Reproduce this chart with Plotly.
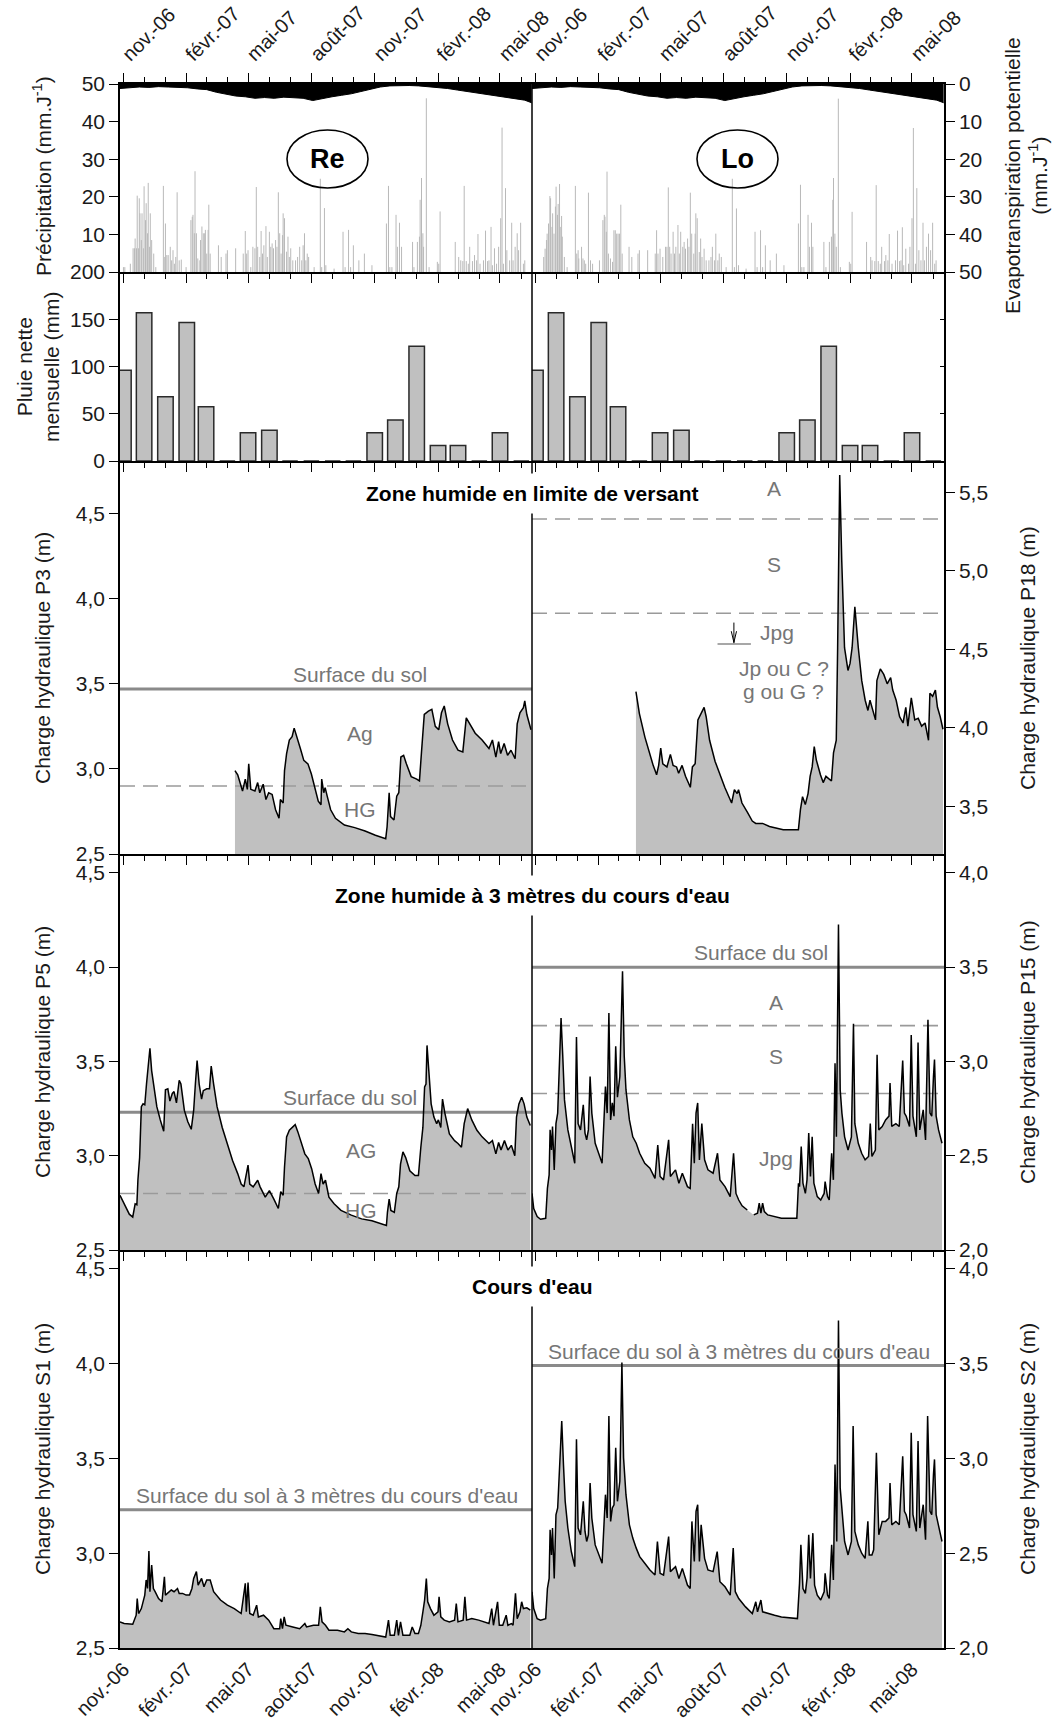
import pandas as pd
import plotly.graph_objects as go

# ------------------------------------------------------------------ data
START_DATE = "2006-10-27"          # day 0 of both panels
END_DAY = 598.5                    # last day shown (mid-June 2008)

MONTH_TICKS = ["2006-11-01", "2007-02-01", "2007-05-01", "2007-08-01",
               "2007-11-01", "2008-02-01", "2008-05-01"]
MONTH_LABELS = ["nov.-06", "févr.-07", "mai-07", "août-07", "nov.-07", "févr.-08", "mai-08"]

# potential evapotranspiration (mm/day), read every two weeks
ETP_DAY = [0, 14, 28, 42, 56, 70, 84, 98, 112, 126, 140, 154, 168, 182, 196, 210, 224, 238,
           252, 266, 280, 294, 308, 322, 336, 350, 364, 378, 392, 406, 420, 434, 448, 462,
           476, 490, 504, 518, 532, 546, 560, 574, 588, 598]
ETP_MM = [1.2, 1.0, 0.8, 0.9, 0.7, 0.8, 0.9, 1.0, 1.3, 1.5, 2.2, 2.6, 3.2, 3.4, 3.8, 3.6,
          3.8, 3.5, 3.6, 3.8, 4.4, 3.8, 3.4, 3.0, 2.6, 2.0, 1.3, 0.8, 0.5, 0.4, 0.4, 0.5,
          0.7, 1.0, 1.2, 1.6, 2.0, 2.4, 2.8, 3.2, 3.5, 3.8, 4.3, 5.0]

# daily precipitation (mm/day), rainy days only
RE_RAIN_DAY = [5, 7, 15, 19, 21, 22, 24, 25, 27, 28, 29, 31, 32, 34, 35, 37, 38, 40, 41, 43,
               44, 46, 49, 52, 63, 65, 66, 68, 70, 73, 75, 77, 79, 81, 83, 86, 89, 96, 103, 105,
               106, 108, 109, 111, 113, 116, 117, 119, 121, 123, 124, 126, 128, 129, 131, 143, 147, 154, 156, 168,
               179, 182, 184, 186, 190, 193, 196, 198, 200, 203, 205, 207, 209, 212, 214, 217, 219, 221, 223, 226,
               228, 230, 232, 234, 236, 237, 239, 242, 244, 246, 248, 251, 255, 258, 261, 264, 266, 268, 270, 272,
               274, 282, 291, 293, 297, 299, 311, 324, 327, 332, 335, 339, 347, 355, 366, 387, 390, 392, 395, 401,
               403, 406, 409, 425, 427, 432, 435, 436, 438, 440, 441, 445, 449, 461, 463, 465, 487, 492, 495, 498,
               500, 503, 506, 508, 512, 515, 518, 520, 523, 528, 531, 534, 536, 539, 541, 544, 547, 550, 553, 555,
               557, 560, 562, 566, 569, 571, 574, 577, 579, 582, 586, 588]
RE_RAIN_MM = [1.3, 1.3, 2.2, 6.3, 6.3, 8.9, 6.3, 20.3, 6.3, 19.6,
              15.6, 8.5, 15.6, 6.3, 22.8, 13.8, 18.3, 10.3, 23.7, 6.7,
              15.6, 8.5, 4.9, 1.3, 22.9, 4.0, 12.9, 4.5, 4.5, 6.7,
              3.1, 5.8, 2.2, 4.0, 21.2, 3.1, 3.3, 1.3, 13.8, 14.7,
              15.2, 10.3, 26.8, 10.3, 3.6, 3.1, 8.5, 12.1, 10.3, 10.3,
              11.2, 4.9, 11.2, 17.9, 4.9, 7.1, 4.0, 4.9, 5.8, 6.3,
              4.9, 10.9, 4.9, 5.8, 1.3, 6.7, 6.3, 22.6, 6.7, 4.0,
              10.9, 4.9, 7.1, 12.2, 4.0, 10.7, 6.7, 7.6, 6.3, 8.5,
              6.7, 21.2, 10.3, 4.9, 9.8, 15.6, 14.3, 5.4, 9.4, 4.0,
              6.3, 3.1, 3.1, 4.0, 6.7, 3.1, 7.1, 10.3, 3.1, 4.9,
              4.0, 1.3, 24.8, 1.3, 17.0, 1.8, 0.9, 10.7, 1.3, 11.2,
              1.3, 7.1, 3.1, 4.9, 1.8, 12.9, 22.9, 1.3, 1.3, 15.2,
              6.7, 13.1, 6.7, 8.0, 1.3, 8.0, 9.4, 19.2, 25.0, 10.3,
              6.7, 46.2, 1.3, 2.7, 2.2, 16.1, 8.0, 4.0, 3.1, 2.9,
              22.9, 2.9, 2.2, 6.7, 2.9, 4.5, 3.1, 10.1, 2.2, 3.1,
              11.0, 2.9, 3.1, 12.0, 1.8, 6.3, 2.2, 6.7, 14.3, 38.4,
              2.2, 22.3, 5.8, 3.1, 13.1, 3.1, 6.7, 10.3, 5.8, 13.1,
              2.2, 3.1]
LO_RAIN_DAY = [17, 19, 21, 22, 24, 26, 27, 29, 30, 32, 34, 35, 37, 38, 40, 41, 43, 44, 47, 51,
               63, 65, 67, 68, 72, 74, 76, 78, 82, 85, 88, 98, 103, 105, 106, 108, 109, 111, 114, 117,
               119, 121, 123, 125, 127, 129, 131, 141, 145, 154, 156, 168, 179, 181, 183, 186, 190, 194, 196, 198,
               200, 202, 205, 207, 209, 212, 214, 216, 219, 221, 223, 226, 228, 230, 232, 235, 237, 238, 240, 243,
               245, 247, 250, 253, 257, 260, 262, 265, 267, 270, 272, 275, 282, 291, 294, 297, 300, 311, 324, 327,
               332, 335, 339, 346, 355, 366, 387, 390, 392, 395, 401, 403, 406, 408, 424, 427, 432, 435, 437, 438,
               440, 442, 445, 448, 461, 463, 465, 486, 492, 494, 498, 500, 503, 506, 508, 512, 514, 517, 519, 523,
               528, 531, 534, 536, 538, 540, 543, 547, 549, 552, 554, 557, 559, 562, 565, 568, 570, 573, 576, 579,
               582, 585, 587]
LO_RAIN_MM = [4.0, 6.2, 8.5, 10.2, 12.9, 20.2, 19.6, 12.0, 15.6, 10.2,
              17.4, 22.7, 15.2, 18.1, 23.4, 12.0, 14.9, 9.4, 4.0, 1.3,
              22.9, 4.9, 5.8, 3.6, 6.7, 3.6, 3.1, 2.2, 21.1, 3.1,
              2.2, 3.1, 13.8, 15.2, 14.7, 10.7, 26.7, 4.9, 3.6, 2.7,
              11.1, 11.1, 10.2, 10.2, 10.2, 17.9, 4.9, 6.7, 4.0, 4.9,
              5.8, 5.8, 4.9, 11.1, 4.9, 6.2, 4.0, 6.7, 6.7, 22.5,
              6.7, 4.9, 10.7, 4.9, 6.7, 12.5, 4.9, 10.7, 6.7, 8.0,
              6.2, 8.9, 6.7, 21.1, 10.2, 4.9, 10.2, 15.6, 14.3, 5.3,
              8.9, 4.0, 6.2, 3.1, 3.1, 4.0, 6.7, 3.1, 10.2, 3.1,
              4.9, 4.0, 1.3, 24.8, 1.3, 16.9, 1.8, 0.9, 10.7, 1.3,
              11.1, 1.3, 7.1, 3.1, 4.9, 1.8, 12.9, 23.2, 1.3, 1.3,
              15.2, 6.7, 13.1, 6.7, 8.0, 1.3, 8.0, 9.4, 19.2, 25.0,
              10.2, 6.7, 46.1, 1.3, 2.7, 2.2, 16.0, 8.0, 4.0, 3.1,
              2.9, 23.1, 2.9, 2.2, 6.7, 2.9, 4.5, 3.1, 10.1, 2.2,
              3.1, 11.0, 2.9, 3.1, 11.9, 1.8, 6.2, 2.2, 6.7, 14.3,
              38.3, 2.2, 22.3, 5.8, 3.1, 13.1, 3.1, 6.7, 10.2, 5.8,
              13.1, 2.2, 3.1]

# monthly net rainfall (mm), same for both sites
NET_MONTH = ["2006-11-01", "2006-12-01", "2007-01-01", "2007-02-01", "2007-03-01", "2007-04-01",
             "2007-05-01", "2007-06-01", "2007-07-01", "2007-08-01", "2007-09-01", "2007-10-01",
             "2007-11-01", "2007-12-01", "2008-01-01", "2008-02-01", "2008-03-01", "2008-04-01",
             "2008-05-01", "2008-06-01"]
NET_MM = [96, 157, 68, 146.5, 57.5, 0, 30, 32.5, 0, 0, 0, 0, 30, 43.5, 121.5, 16.5, 16.5, 0, 30, 0]

# hydraulic heads (m)
P3_DAY = [167, 171, 178, 182, 185, 187, 190, 196, 200, 203, 208, 212, 216, 221, 226, 231, 233, 237, 239, 242,
          246, 250, 253, 257, 262, 267, 273, 278, 283, 288, 292, 293, 296, 298, 301, 306, 313, 326, 341, 356,
          371, 386, 388, 391, 393, 398, 402, 405, 408, 412, 416, 423, 431, 435, 438, 442, 448, 453, 458, 463,
          467, 471, 476, 483, 491, 498, 503, 508, 516, 526, 536, 541, 546, 550, 553, 558, 563, 568, 572, 574,
          577, 581, 586, 588, 591, 595, 597]
P3_M = [2.99, 2.965, 2.87, 2.94, 2.88, 3.03, 2.88, 2.87, 2.92, 2.86, 2.91, 2.82, 2.86, 2.85, 2.76, 2.71, 2.82, 2.80, 2.99, 3.09,
        3.17, 3.19, 3.24, 3.19, 3.12, 3.05, 3.03, 2.97, 2.89, 2.81, 2.79, 2.94, 2.86, 2.89, 2.84, 2.76, 2.71, 2.67, 2.655, 2.635,
        2.61, 2.59, 2.66, 2.86, 2.72, 2.70, 2.84, 2.86, 3.07, 3.08, 3.03, 2.955, 2.94, 2.93, 3.10, 3.32, 3.34, 3.35, 3.25, 3.23,
        3.33, 3.37, 3.265, 3.17, 3.11, 3.10, 3.30, 3.265, 3.21, 3.17, 3.12, 3.17, 3.07, 3.16, 3.09, 3.15, 3.08, 3.11, 3.07, 3.06,
        3.265, 3.33, 3.36, 3.40, 3.32, 3.25, 3.23]

P18_DAY = [151, 156, 164, 169, 176, 181, 184, 187, 190, 196, 201, 205, 210, 213, 218, 223, 230, 233, 237, 241,
           245, 250, 253, 258, 266, 273, 280, 286, 290, 294, 298, 300, 305, 313, 320, 325, 335, 345, 355, 365,
           380, 387, 390, 393, 397, 401, 404, 407, 410, 413, 419, 423, 427, 432, 435, 438, 442, 444, 447, 450,
           454, 459, 462, 465, 469, 474, 479, 484, 488, 491, 499, 501, 506, 511, 516, 521, 524, 529, 534, 539,
           543, 546, 551, 556, 561, 566, 571, 576, 578, 582, 586, 589, 593, 597]
P18_M = [4.23, 4.09, 3.94, 3.86, 3.76, 3.70, 3.76, 3.87, 3.77, 3.75, 3.83, 3.76, 3.75, 3.71, 3.76, 3.69, 3.62, 3.75, 3.77, 4.05,
         4.09, 4.13, 4.07, 3.92, 3.785, 3.70, 3.62, 3.56, 3.52, 3.605, 3.58, 3.605, 3.52, 3.46, 3.405, 3.39, 3.39, 3.37, 3.36, 3.35,
         3.35, 3.35, 3.48, 3.56, 3.51, 3.58, 3.69, 3.75, 3.88, 3.795, 3.70, 3.65, 3.69, 3.67, 3.66, 3.84, 3.92, 4.51, 5.61, 5.06,
         4.51, 4.365, 4.41, 4.51, 4.77, 4.51, 4.30, 4.175, 4.11, 4.175, 4.05, 4.30, 4.375, 4.34, 4.28, 4.32, 4.24, 4.175, 4.07, 4.03,
         4.13, 4.01, 4.19, 4.05, 4.06, 4.01, 4.03, 3.92, 4.22, 4.20, 4.24, 4.13, 4.07, 3.99]

P5_DAY = [0, 6, 13.5, 18.5, 22, 24.5, 26, 28.5, 31, 33.5, 36, 38.5, 41, 43.5, 46, 49.5, 53.5, 58.5, 63.5, 66,
          69.5, 72.5, 76, 78.5, 82, 86, 88.5, 93.5, 98.5, 103.5, 107, 109.5, 112, 115, 118.5, 121, 126, 130, 132.5, 136,
          141, 148.5, 156, 163.5, 171, 176, 180, 183.5, 186, 188.5, 193.5, 200, 203.5, 211, 217, 223.5, 230, 233.5, 237, 239,
          242, 246, 251, 254.5, 258.5, 263.5, 268.5, 273.5, 278.5, 283.5, 288.5, 292, 295, 298.5, 303.5, 311, 321, 336, 351, 366,
          376, 387, 388.5, 391, 393.5, 398.5, 402, 405, 407.5, 411, 415, 421, 428.5, 433.5, 437, 440, 442.5, 444.5, 446, 448.5,
          452, 456, 460, 462.5, 466, 468.5, 472, 478.5, 486, 491, 496, 500, 505, 511, 518.5, 526, 536, 541, 546, 550,
          553.5, 558.5, 563.5, 568.5, 573.5, 576, 579.5, 583.5, 587, 591, 596]
P5_M = [2.79, 2.745, 2.69, 2.675, 2.745, 2.74, 2.87, 2.99, 3.26, 3.275, 3.27, 3.38, 3.47, 3.57, 3.45, 3.35, 3.26, 3.19, 3.13, 3.35,
        3.355, 3.29, 3.33, 3.34, 3.28, 3.40, 3.38, 3.24, 3.18, 3.14, 3.24, 3.38, 3.505, 3.38, 3.30, 3.345, 3.355, 3.355, 3.475, 3.38,
        3.26, 3.15, 3.065, 2.975, 2.905, 2.85, 2.835, 2.895, 2.95, 2.85, 2.835, 2.87, 2.835, 2.78, 2.815, 2.77, 2.72, 2.81, 2.79, 2.94,
        3.10, 3.135, 3.15, 3.165, 3.125, 3.065, 3.01, 2.985, 2.93, 2.85, 2.80, 2.905, 2.85, 2.87, 2.78, 2.745, 2.71, 2.685, 2.665, 2.655,
        2.645, 2.63, 2.70, 2.77, 2.71, 2.70, 2.80, 2.835, 2.955, 3.02, 2.99, 2.92, 2.895, 2.895, 3.045, 3.15, 3.365, 3.38, 3.585, 3.45,
        3.275, 3.205, 3.17, 3.19, 3.15, 3.30, 3.225, 3.115, 3.08, 3.065, 3.045, 3.17, 3.25, 3.19, 3.135, 3.10, 3.065, 3.08, 3.01, 3.07,
        3.03, 3.08, 3.03, 3.055, 3.00, 3.205, 3.275, 3.31, 3.275, 3.205, 3.16]

P15_DAY = [0, 2.5, 7.5, 12.4, 19.9, 22.4, 24.9, 26.3, 28.3, 29.8, 32.3, 34.8, 37.3, 39.7, 42.2, 44.7, 47.2, 52.1, 57.1, 62.1,
           64.6, 67, 70.5, 74.5, 77, 79.4, 81.9, 84.4, 86.9, 91.8, 96.8, 101.8, 106.7, 109.2, 111.7, 114.2, 116.7, 119.1, 121.6, 124.1,
           127.6, 131.5, 134, 136.5, 141.5, 146.4, 151.4, 156.4, 163.8, 171.3, 178.7, 182.7, 186.1, 191.1, 198.5, 201, 208.5, 213.4, 218.4, 225.8,
           229.8, 233.3, 235.8, 238.3, 240.7, 243.2, 246.7, 250.7, 255.6, 263.1, 269.5, 273, 280.4, 287.9, 292.8, 296.3, 300.3, 305.2, 312.7,
           317,
           322.1, 327.6, 330.1, 332.5, 335, 337.5, 342.5, 352.4, 362.3, 374.7, 384.7, 387.1, 388.6, 391.1, 393.6, 397.1, 399.5, 402, 404.5, 407,
           409.5, 414.4, 419.4, 424.4, 425.8, 429.3, 431.8, 435.3, 437.8, 440.2, 442.2, 445.2, 447.7, 450.2, 454.1, 459.1, 464, 467, 469, 474,
           478.9, 483.9, 488.9, 491.4, 493.8, 498.8, 501.3, 503.8, 508.7, 513.7, 518.6, 520.1, 522.6, 528.6, 533.5, 538.5, 541, 543.5, 548.4, 550.9,
           553.4, 558.3, 560.8, 563.3, 568.3, 571.7, 575.2, 578.2, 580.7, 583.2, 584.7, 587.1, 590.6, 595.6]
P15_M = [2.30, 2.22, 2.177, 2.163, 2.168, 2.327, 2.398, 2.637, 2.53, 2.655, 2.425, 2.67, 2.726, 2.956, 3.23, 3.027, 2.796, 2.637, 2.54, 2.46,
         3.13, 2.67, 2.637, 2.77, 2.62, 2.584, 2.637, 2.92, 2.726, 2.566, 2.513, 2.46, 2.867, 2.726, 3.257, 2.69, 2.78, 2.71, 3.08, 2.81,
         2.92, 3.478, 3.027, 2.85, 2.69, 2.60, 2.566, 2.513, 2.46, 2.434, 2.38, 2.557, 2.39, 2.372, 2.584, 2.39, 2.425, 2.354, 2.407, 2.336,
         2.327, 2.67, 2.46, 2.726, 2.78, 2.478, 2.67, 2.478, 2.425, 2.407, 2.513, 2.372, 2.336, 2.283, 2.513, 2.30, 2.265, 2.234, 2.212,
         None,
         2.186, 2.195, 2.248, 2.195, 2.248, 2.204, 2.186, 2.177, 2.168, 2.168, 2.168, 2.354, 2.336, 2.549, 2.354, 2.30, 2.372, 2.62, 2.39, 2.60,
         2.354, 2.283, 2.265, 2.30, 2.363, 2.283, 2.265, 2.513, 2.372, 2.99, 2.60, 3.726, 2.85, 2.726, 2.60, 2.53, 2.60, 3.20, 2.67, 2.566,
         2.513, 2.478, 2.496, 2.67, 2.496, 2.53, 3.035, 2.637, 2.655, 2.69, 2.71, 2.885, 2.655, 2.67, 2.655, 3.005, 2.726, 2.71, 2.655, 3.14,
         2.71, 2.60, 3.10, 2.637, 2.743, 2.584, 3.221, 2.726, 2.71, 2.92, 3.01, 2.71, 2.637, 2.566]

S1_DAY = [0, 6, 18.5, 21, 23.5, 25, 27, 31, 33.5, 36, 38, 40, 42, 43.5, 46, 48.5, 51, 56, 61, 64.5,
          66, 71, 74.5, 78.5, 83.5, 86, 91, 96, 101, 104.5, 107, 111, 113.5, 118.5, 122, 126, 131, 136, 146, 156,
          166, 176, 182, 183.5, 186, 188.5, 193.5, 198.5, 201, 208.5, 216, 223.5, 232, 233.5, 236, 238.5, 241, 251, 261, 268.5,
          271, 281, 288.5, 291, 293.5, 298.5, 303.5, 316, 326, 331, 336, 346, 356, 366, 376, 386, 390, 392.5, 398.5, 402,
          404.5, 407.5, 411, 421, 424.5, 428.5, 433.5, 437, 440, 442.5, 445, 447, 451, 456, 462, 463.5, 466, 471, 478.5, 486,
          488.5, 491, 498.5, 501, 503.5, 511, 521, 528.5, 536, 540, 542.5, 548.5, 551, 556, 561, 563.5, 568.5, 571, 574.5, 577,
          581, 583.5, 586, 591, 596]
S1_M = [2.638, 2.629, 2.625, 2.655, 2.673, 2.761, 2.682, 2.708, 2.753, 2.779, 2.859, 2.814, 3.012, 2.797, 2.938, 2.814, 2.797, 2.761, 2.744, 2.876,
        2.779, 2.797, 2.806, 2.797, 2.814, 2.788, 2.788, 2.779, 2.779, 2.814, 2.867, 2.903, 2.832, 2.867, 2.823, 2.859, 2.859, 2.797, 2.753, 2.726,
        2.708, 2.682, 2.841, 2.691, 2.846, 2.682, 2.673, 2.726, 2.664, 2.673, 2.647, 2.602, 2.602, 2.655, 2.602, 2.664, 2.620, 2.611, 2.602, 2.629,
        2.611, 2.620, 2.620, 2.717, 2.638, 2.620, 2.594, 2.594, 2.585, 2.602, 2.585, 2.576, 2.576, 2.571, 2.564, 2.558, 2.647, 2.567, 2.567, 2.647,
        2.567, 2.638, 2.567, 2.567, 2.611, 2.576, 2.576, 2.620, 2.691, 2.753, 2.867, 2.744, 2.708, 2.673, 2.691, 2.770, 2.664, 2.647, 2.638, 2.647,
        2.735, 2.638, 2.647, 2.770, 2.647, 2.655, 2.647, 2.638, 2.629, 2.708, 2.620, 2.744, 2.620, 2.620, 2.673, 2.620, 2.629, 2.620, 2.788, 2.655,
        2.691, 2.744, 2.708, 2.712, 2.700]

S2_DAY = [0, 2.5, 7.5, 12.4, 19.9, 22.4, 24.9, 26.3, 28.3, 29.8, 32.3, 34.8, 37.3, 39.7, 43.2, 45.7, 48.2, 52.1, 57.1, 62.1,
          64.6, 67, 70.5, 74.5, 77, 79.4, 81.9, 84.4, 86.9, 91.8, 96.8, 101.8, 106.7, 109.2, 111.7, 114.2, 116.7, 119.1, 121.6, 124.1,
          127.6, 130.6, 133, 136.5, 141.5, 146.4, 151.4, 156.4, 163.8, 171.3, 178.7, 182.2, 186.1, 191.1, 198.5, 201, 208.5, 213.4, 218.4, 225.8,
          229.8, 232.3, 235.8, 238.3, 240.7, 243.2, 245.7, 250.7, 255.6, 263.1, 269, 273, 280.4, 287.9, 292.3, 295.3, 300.3, 310.2, 320.1, 325.1,
          327.6, 332.5, 335, 342.5, 352.4, 362.3, 374.7, 385.6, 388.6, 390.6, 393.6, 397.1, 399.5, 402, 404.5, 408, 410.5, 414.4, 419.4, 424.4,
          425.8, 429.3, 431.8, 435.3, 437.8, 440.2, 442.7, 445.2, 447.7, 450.7, 454.1, 459.1, 464, 466.5, 469, 474, 478.9, 483.9, 487.9, 489.9,
          493.8, 496.3, 500.3, 503.8, 508.7, 513.7, 518.6, 520.1, 522.6, 528.6, 533.5, 538.5, 541, 543.5, 548.4, 550.9, 553.4, 558.3, 560.8, 563.3,
          568.3, 571.7, 574.7, 578.2, 580.7, 583.2, 584.7, 587.1, 590.6, 595.6]
S2_M = [2.297, 2.208, 2.155, 2.147, 2.155, 2.314, 2.367, 2.624, 2.491, 2.633, 2.367, 2.703, 2.739, 2.915, 3.198, 2.968, 2.774, 2.633, 2.509, 2.429,
        3.101, 2.633, 2.597, 2.774, 2.615, 2.562, 2.597, 2.871, 2.686, 2.544, 2.491, 2.447, 2.809, 2.686, 3.224, 2.668, 2.739, 2.756, 3.057, 2.774,
        2.88, 3.507, 3.004, 2.809, 2.650, 2.580, 2.527, 2.482, 2.447, 2.412, 2.385, 2.562, 2.394, 2.385, 2.588, 2.403, 2.429, 2.367, 2.420, 2.332,
        2.314, 2.668, 2.456, 2.721, 2.756, 2.456, 2.650, 2.473, 2.412, 2.403, 2.509, 2.350, 2.323, 2.279, 2.527, 2.297, 2.261, 2.217, 2.182, 2.244,
        2.191, 2.253, 2.191, 2.182, 2.173, 2.164, 2.159, 2.155, 2.341, 2.544, 2.314, 2.288, 2.367, 2.597, 2.367, 2.606, 2.332, 2.279, 2.253, 2.297,
        2.394, 2.279, 2.261, 2.544, 2.359, 2.968, 2.562, 3.728, 2.845, 2.703, 2.562, 2.491, 2.562, 3.171, 2.615, 2.544, 2.500, 2.473, 2.668, 2.491,
        2.491, 2.518, 3.030, 2.597, 2.668, 2.668, 2.686, 2.871, 2.650, 2.668, 2.650, 3.012, 2.721, 2.703, 2.633, 3.136, 2.703, 2.615, 3.092, 2.633,
        2.756, 2.571, 3.224, 2.721, 2.703, 2.915, 2.995, 2.703, 2.650, 2.562]

# ground surface and soil-horizon limits (m)
P3_SURFACE, P3_LIMITS = 3.47, [2.90]
P18_LIMITS, P18_WATER_TABLE = [5.33, 4.73], 4.534
P5_SURFACE, P5_LIMITS = 3.23, [2.80]
P15_SURFACE, P15_LIMITS = 3.50, [3.19, 2.83]
S1_SURFACE, S2_SURFACE = 3.23, 3.49

# ------------------------------------------------------------------ helpers
T0 = pd.Timestamp(START_DATE)


def dt(d):
    return (T0 + pd.Timedelta(days=float(d))).strftime("%Y-%m-%d %H:%M")


def dts(days):
    return [dt(d) for d in days]


X0, X1 = dt(0), dt(END_DAY)
XRANGE = [X0, X1]

W, H = 1056, 1729
ML, MR, MT, MB = 120, 112, 84, 81
PW, PH = W - ML - MR, H - MT - MB


def fx(px):
    return (px - ML) / PW


def fy(py):
    return (H - MB - py) / PH


ROWS = [84, 272, 461, 854, 1250, 1648]
DOM = [[fy(ROWS[i + 1]), fy(ROWS[i])] for i in range(5)]

FONT = "Liberation Sans, Arial, sans-serif"
TXT = "#1a1a1a"
GREY_TXT = "#767676"
FILL = "#c0c0c0"
TICKFONT = dict(family=FONT, size=21, color=TXT)
XTICKFONT = dict(family=FONT, size=20, color=TXT)


def aid(col, row):
    return col * 5 + row + 1


def xn(i):
    return "x" if i == 1 else f"x{i}"


def yn(i):
    return "y" if i == 1 else f"y{i}"


fig = go.Figure()
layout = dict(
    width=W, height=H, margin=dict(l=ML, r=MR, t=MT, b=MB, autoexpand=False),
    paper_bgcolor="white", plot_bgcolor="white", showlegend=False,
    separators=", ", font=dict(family=FONT, size=21, color=TXT),
)

# x axes
for col in (0, 1):
    for row in range(5):
        i = aid(col, row)
        ax = dict(type="date", range=XRANGE, domain=[0, 0.5] if col == 0 else [0.5, 1.0],
                  anchor=yn(i), automargin=False, showline=True, linecolor="black", linewidth=1.5,
                  showgrid=False, zeroline=False, tickmode="array",
                  tickvals=MONTH_TICKS, ticktext=MONTH_LABELS, tickfont=XTICKFONT,
                  ticks="outside", ticklen=9, tickwidth=1.3, tickcolor="black",
                  minor=dict(tickmode="linear", tick0="2006-11-01", dtick="M1",
                             ticks="outside", ticklen=5, tickwidth=1.2, tickcolor="black",
                             showgrid=False))
        if row == 0:
            ax.update(side="top", showticklabels=True, tickangle=-45, mirror="ticks")
        elif row == 4:
            ax.update(side="bottom", showticklabels=True, tickangle=-45, ticks="",
                      minor=dict(ticks="", showgrid=False))
        else:
            ax.update(side="bottom", showticklabels=False)
        layout["xaxis" if i == 1 else f"xaxis{i}"] = ax

YBASE = dict(showline=True, linecolor="black", linewidth=1.5, showgrid=False, zeroline=False,
             automargin=False, ticks="outside", ticklen=9, tickwidth=1.3, tickcolor="black",
             tickfont=TICKFONT)

ycfg = {
    1: dict(range=[0, 50], tickvals=[10, 20, 30, 40, 50], side="left"),
    2: dict(range=[0, 200], tickvals=[0, 50, 100, 150, 200], side="left"),
    3: dict(range=[2.5, 4.81], tickvals=[2.5, 3.0, 3.5, 4.0, 4.5], tickformat=".1f", side="left"),
    4: dict(range=[2.5, 4.60], tickvals=[2.5, 3.0, 3.5, 4.0, 4.5], tickformat=".1f", side="left"),
    5: dict(range=[2.5, 4.60], tickvals=[2.5, 3.0, 3.5, 4.0, 4.5], tickformat=".1f", side="left"),
    6: dict(range=[0, 50], visible=False, side="right"),
    7: dict(range=[0, 200], tickvals=[50, 100, 150], side="right", showticklabels=False,
            ticks="inside", ticklen=4),
    8: dict(range=[3.195, 5.70], tickvals=[3.5, 4.0, 4.5, 5.0, 5.5], tickformat=".1f", side="right"),
    9: dict(range=[2.0, 4.10], tickvals=[2.0, 2.5, 3.0, 3.5, 4.0], tickformat=".1f", side="right"),
    10: dict(range=[2.0, 4.10], tickvals=[2.0, 2.5, 3.0, 3.5, 4.0], tickformat=".1f", side="right"),
}
for i, c in ycfg.items():
    row = (i - 1) % 5
    ax = dict(YBASE)
    ax.update(domain=DOM[row], anchor=xn(i))
    ax.update(c)
    layout["yaxis" if i == 1 else f"yaxis{i}"] = ax
# ETP axes (reversed, overlaying the precipitation axes)
layout["yaxis11"] = dict(overlaying="y", anchor="x", side="right", range=[50, 0], visible=False,
                         automargin=False)
ax12 = dict(YBASE)
ax12.update(overlaying="y6", anchor="x6", side="right", range=[50, 0],
            tickvals=[0, 10, 20, 30, 40, 50])
layout["yaxis12"] = ax12


# ------------------------------------------------------------------ traces
def stems(days, vals):
    xs, ys = [], []
    for d, v in zip(days, vals):
        t = dt(d)
        xs += [t, t, None]
        ys += [0, v, None]
    return xs, ys


for col, (rd, rv) in enumerate([(RE_RAIN_DAY, RE_RAIN_MM), (LO_RAIN_DAY, LO_RAIN_MM)]):
    i = aid(col, 0)
    xs, ys = stems(rd, rv)
    fig.add_trace(go.Scatter(x=xs, y=ys, mode="lines", line=dict(color="#b9b9b9", width=1),
                             xaxis=xn(i), yaxis=yn(i), hoverinfo="skip"))
    fig.add_trace(go.Scatter(x=dts(ETP_DAY), y=ETP_MM, mode="lines", fill="tozeroy",
                             fillcolor="black", line=dict(color="black", width=1),
                             xaxis=xn(i), yaxis="y11" if col == 0 else "y12"))

for col in (0, 1):
    i = aid(col, 1)
    fig.add_trace(go.Bar(x=NET_MONTH, y=NET_MM, width=22.5 * 86400000,
                         marker=dict(color=FILL, line=dict(color="#2a2a2a", width=1.5)),
                         xaxis=xn(i), yaxis=yn(i)))


def head_panel(i, days, vals, solid=None, dashed=()):
    x = dts(days)
    fig.add_trace(go.Scatter(x=x, y=vals, mode="lines", fill="tozeroy", fillcolor=FILL,
                             line=dict(width=0, color=FILL), connectgaps=False,
                             xaxis=xn(i), yaxis=yn(i)))
    for lv in dashed:
        fig.add_trace(go.Scatter(x=XRANGE, y=[lv, lv], mode="lines",
                                 line=dict(color="#9a9a9a", width=1.6, dash="15px,8px"),
                                 xaxis=xn(i), yaxis=yn(i)))
    if solid is not None:
        fig.add_trace(go.Scatter(x=XRANGE, y=[solid, solid], mode="lines",
                                 line=dict(color="#8a8a8a", width=3),
                                 xaxis=xn(i), yaxis=yn(i)))
    fig.add_trace(go.Scatter(x=x, y=vals, mode="lines", connectgaps=False,
                             line=dict(color="black", width=1.5),
                             xaxis=xn(i), yaxis=yn(i)))


head_panel(aid(0, 2), P3_DAY, P3_M, solid=P3_SURFACE, dashed=P3_LIMITS)
head_panel(aid(1, 2), P18_DAY, P18_M, dashed=P18_LIMITS)
head_panel(aid(0, 3), P5_DAY, P5_M, solid=P5_SURFACE, dashed=P5_LIMITS)
head_panel(aid(1, 3), P15_DAY, P15_M, solid=P15_SURFACE, dashed=P15_LIMITS)
head_panel(aid(0, 4), S1_DAY, S1_M, solid=S1_SURFACE)
head_panel(aid(1, 4), S2_DAY, S2_M, solid=S2_SURFACE)

# ------------------------------------------------------------------ shapes & annotations
shapes = [
    dict(type="line", xref="paper", yref="paper", x0=0.5, x1=0.5, y0=0, y1=1,
         line=dict(color="black", width=1.5)),
    dict(type="circle", xref="paper", yref="paper", x0=fx(287), x1=fx(368), y0=fy(188), y1=fy(130),
         line=dict(color="black", width=1.6)),
    dict(type="circle", xref="paper", yref="paper", x0=fx(697), x1=fx(778), y0=fy(188), y1=fy(130),
         line=dict(color="black", width=1.6)),
    # water-table symbol in P18 panel
    dict(type="line", xref="x8", yref="y8", x0=dt(269.5), x1=dt(318), y0=P18_WATER_TABLE,
         y1=P18_WATER_TABLE, line=dict(color="#8a8a8a", width=1.5)),
    dict(type="line", xref="x8", yref="y8", x0=dt(293.3), x1=dt(293.3), y0=P18_WATER_TABLE + 0.005,
         y1=4.67, line=dict(color="black", width=1)),
    dict(type="line", xref="x8", yref="y8", x0=dt(289.5), x1=dt(293.3), y0=4.615, y1=P18_WATER_TABLE + 0.01,
         line=dict(color="black", width=1)),
    dict(type="line", xref="x8", yref="y8", x0=dt(297.1), x1=dt(293.3), y0=4.615, y1=P18_WATER_TABLE + 0.01,
         line=dict(color="black", width=1)),
]

ann = []


def a_title(text, px, pyc, size=21):
    ann.append(dict(text=text, xref="paper", yref="paper", x=fx(px), y=fy(pyc), showarrow=False,
                    textangle=-90, xanchor="center", yanchor="middle",
                    font=dict(family=FONT, size=size, color=TXT)))


a_title("Précipitation (mm.J<sup>-1</sup>)", 42, 176)
a_title("Pluie nette<br>mensuelle (mm)", 38, 367)
a_title("Charge hydraulique P3 (m)", 42, 658)
a_title("Charge hydraulique P5 (m)", 42, 1052)
a_title("Charge hydraulique S1 (m)", 42, 1449)
a_title("Evapotranspiration potentielle<br>(mm.J<sup>-1</sup>)", 1026, 176)
a_title("Charge hydraulique P18 (m)", 1027, 658)
a_title("Charge hydraulique P15 (m)", 1027, 1052)
a_title("Charge hydraulique S2 (m)", 1027, 1449)

for txt, cx in (("Re", 327.5), ("Lo", 737.5)):
    ann.append(dict(text=f"<b>{txt}</b>", xref="paper", yref="paper", x=fx(cx), y=fy(159),
                    showarrow=False, xanchor="center", yanchor="middle",
                    font=dict(family=FONT, size=27, color="black")))

for txt, py in (("Zone humide en limite de versant", 493),
                ("Zone humide à 3 mètres du cours d'eau", 896),
                ("Cours d'eau", 1286)):
    ann.append(dict(text=f"<b>{txt}</b>", xref="paper", yref="paper", x=0.5, y=fy(py),
                    showarrow=False, bgcolor="white", borderpad=8,
                    xanchor="center", yanchor="middle",
                    font=dict(family=FONT, size=21, color="black")))


def g(i, text, day, val, anchor="middle", shift=0):
    ann.append(dict(text=text, xref=xn(i), yref=yn(i), x=dt(day), y=val, showarrow=False,
                    yanchor=anchor, yshift=shift,
                    font=dict(family=FONT, size=21, color=GREY_TXT)))


g(3, "Surface du sol", 348, P3_SURFACE, "bottom", 1)
g(3, "Ag", 348, 3.21)
g(3, "HG", 348, 2.76)
g(8, "A", 352, 5.525)
g(8, "S", 352, 5.04)
g(8, "Jpg", 356, 4.61)
g(8, "Jp ou C ?", 366, 4.38)
g(8, "g ou G ?", 366, 4.228)
g(4, "Surface du sol", 333.5, P5_SURFACE, "bottom", 1)
g(4, "AG", 350, 3.03)
g(4, "HG", 350, 2.71)
g(9, "Surface du sol", 332.5, P15_SURFACE, "bottom", 1)
g(9, "A", 354, 3.313)
g(9, "S", 354, 3.027)
g(9, "Jpg", 354, 2.487)
g(5, "Surface du sol à 3 mètres du cours d'eau", 301, S1_SURFACE, "bottom", 1)
g(10, "Surface du sol à 3 mètres du cours d'eau", 300, S2_SURFACE, "bottom", 1)

layout["shapes"] = shapes
layout["annotations"] = ann
fig.update_layout(**layout)
fig.write_html("out.html", config={"displayModeBar": False},
               post_script="document.body.style.margin='0px';")
